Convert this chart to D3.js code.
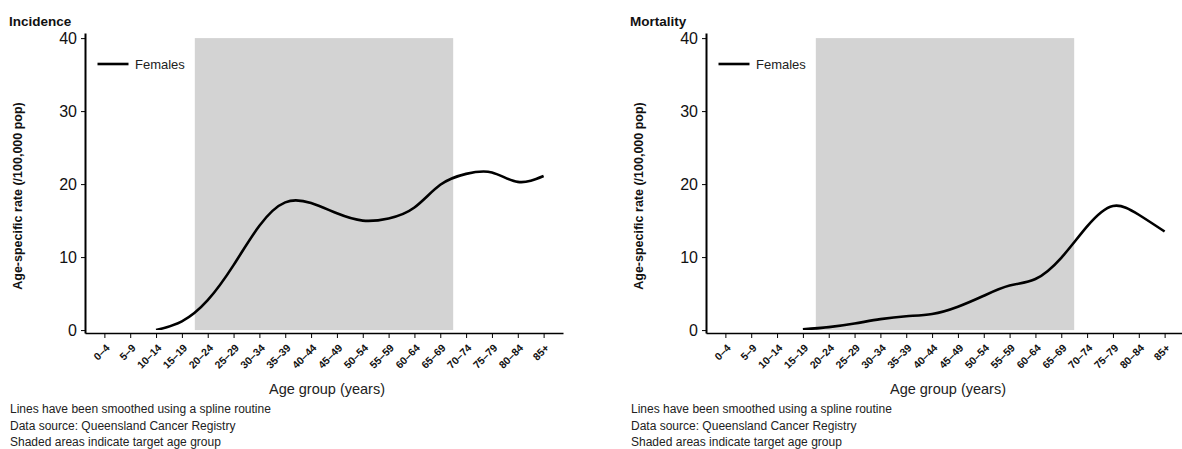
<!DOCTYPE html>
<html>
<head>
<meta charset="utf-8">
<script src="https://cdn.jsdelivr.net/npm/d3@7"></script>
<style>
  html, body { margin: 0; padding: 0; background: #fff; }
  svg { display: block; font-family: "Liberation Sans", Arial, Helvetica, sans-serif; }
</style>
</head>
<body>
<svg id="chart" width="1182" height="449"></svg>
<script>
// ---- data ----
const ageGroups = ["0–4","5–9","10–14","15–19","20–24","25–29","30–34","35–39","40–44","45–49","50–54","55–59","60–64","65–69","70–74","75–79","80–84","85+"];
const incidenceFemales = [null, null, 0, 1.2, 4.1, 8.9, 14.3, 17.5, 17.4, 16.0, 15.0, 15.3, 16.8, 19.9, 21.4, 21.6, 20.3, 21.1];
const mortalityFemales = [null, null, null, 0.1, 0.4, 0.9, 1.5, 1.9, 2.2, 3.2, 4.7, 6.1, 7.0, 9.9, 14.2, 17.0, 15.8, 13.5];
const yTicks = [0, 10, 20, 30, 40];
const targetGroups = ["20–24", "65–69"];
const panelTitles = ["Incidence", "Mortality"];
const seriesName = "Females";
const yAxisTitle = "Age-specific rate (/100,000 pop)";
const xAxisTitle = "Age group (years)";
const footnotes = [
  "Lines have been smoothed using a spline routine",
  "Data source: Queensland Cancer Registry",
  "Shaded areas indicate target age group"
];

// ---- drawing ----
const svg = d3.select("#chart");
const panels = [
  { title: panelTitles[0], values: incidenceFemales, dx: 0 },
  { title: panelTitles[1], values: mortalityFemales, dx: 621 }
];

panels.forEach((p, i) => {
  const g = svg.append("g").attr("transform", `translate(${p.dx},0)`);

  const x = d3.scalePoint().domain(ageGroups).range([85, 563]).padding(0.75);
  const y = d3.scaleLinear().domain([-0.4, 40.7]).range([333, 33]);

  // shaded target age range
  g.append("rect")
    .attr("x", x(targetGroups[0]) - x.step() / 2)
    .attr("width", x(targetGroups[1]) - x(targetGroups[0]) + x.step())
    .attr("y", y(d3.max(yTicks)))
    .attr("height", y(0) - y(d3.max(yTicks)))
    .attr("fill", "#d3d3d3");

  // y axis
  const ya = g.append("g").attr("transform", "translate(85,0)")
    .call(d3.axisLeft(y).tickValues(yTicks).tickSize(4).tickSizeOuter(0).tickPadding(4));
  ya.select(".domain").attr("stroke", "#000").attr("stroke-width", 2);
  ya.selectAll(".tick line").attr("stroke", "#000").attr("stroke-width", 1);
  ya.selectAll(".tick text").attr("font-size", 16).attr("fill", "#111")
    .attr("font-family", "'Liberation Sans', Arial, sans-serif");

  // x axis
  const xa = g.append("g").attr("transform", "translate(0,333)")
    .call(d3.axisBottom(x).tickSize(5).tickSizeOuter(0));
  xa.select(".domain").attr("stroke", "#000").attr("stroke-width", 1.5);
  xa.selectAll(".tick line").attr("stroke", "#000").attr("stroke-width", 1);
  xa.selectAll(".tick text")
    .attr("x", 0).attr("y", 0).attr("dy", "0.35em")
    .attr("transform", "translate(3,13) rotate(-45)")
    .attr("text-anchor", "end")
    .attr("font-size", 10.5).attr("font-weight", "bold").attr("fill", "#111")
    .attr("font-family", "'Liberation Sans', Arial, sans-serif");

  // clip to plot region
  const clipId = "clip" + i;
  g.append("clipPath").attr("id", clipId).append("rect")
    .attr("x", 85).attr("y", y(d3.max(yTicks)) - 5)
    .attr("width", 478).attr("height", y(0) - y(d3.max(yTicks)) + 5);

  // series line
  const pts = ageGroups.map((a, k) => ({ a, v: p.values[k] })).filter(d => d.v !== null);
  const line = d3.line().x(d => x(d.a)).y(d => y(d.v)).curve(d3.curveNatural);
  g.append("path").datum(pts)
    .attr("clip-path", `url(#${clipId})`)
    .attr("d", line)
    .attr("fill", "none").attr("stroke", "#000").attr("stroke-width", 2.6)
    .attr("stroke-linejoin", "round");

  // legend
  g.append("line").attr("x1", 97.5).attr("x2", 128.5).attr("y1", 64).attr("y2", 64)
    .attr("stroke", "#000").attr("stroke-width", 2.6);
  g.append("text").attr("x", 135).attr("y", 64).attr("dy", "0.35em")
    .attr("font-size", 13).attr("fill", "#222").text(seriesName);

  // title
  g.append("text").attr("x", 9).attr("y", 26)
    .attr("font-size", 13.5).attr("font-weight", "bold").attr("fill", "#111").text(p.title);

  // y axis title
  g.append("text").attr("transform", "translate(22,196) rotate(-90)")
    .attr("text-anchor", "middle")
    .attr("font-size", 12.5).attr("font-weight", "bold").attr("fill", "#111").text(yAxisTitle);

  // x axis title
  g.append("text").attr("x", 327).attr("y", 394)
    .attr("text-anchor", "middle")
    .attr("font-size", 14.5).attr("fill", "#222").text(xAxisTitle);

  // footnotes
  g.selectAll("text.foot").data(footnotes).enter().append("text")
    .attr("class", "foot")
    .attr("x", 10).attr("y", (d, k) => 413 + k * 16.5)
    .attr("font-size", 12).attr("fill", "#222").text(d => d);
});
</script>
</body>
</html>
